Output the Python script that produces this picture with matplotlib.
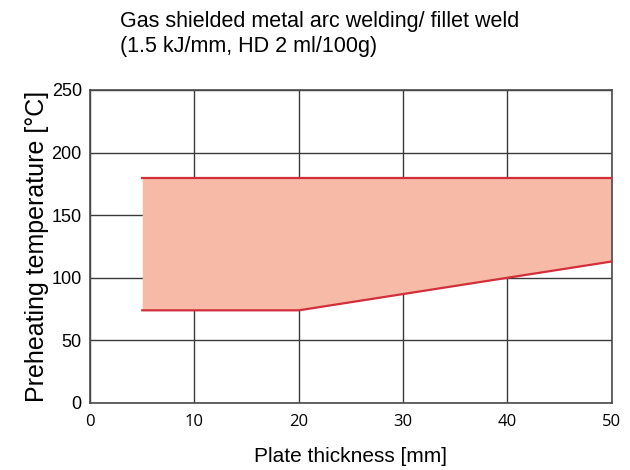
import matplotlib
matplotlib.use('Agg')
import matplotlib.pyplot as plt

# plate thickness [mm] and preheat window [°C]
thickness = [5, 20, 40, 50]
lower_temp = [74, 74, 100, 113]
upper_temp = [180, 180, 180, 180]

xticks = [0, 10, 20, 30, 40, 50]
yticks = [0, 50, 100, 150, 200, 250]

plt.rcParams['font.family'] = ['Liberation Sans', 'DejaVu Sans']

fig = plt.figure(figsize=(6.3, 4.7), dpi=100)
ax = fig.add_axes([0.143, 0.1426, 0.828, 0.666])

ax.fill_between(thickness, lower_temp, upper_temp, color='#f7baa7', lw=0, zorder=2)
ax.plot(thickness, lower_temp, color='#d22f3a', lw=1.6, zorder=3)
ax.plot(thickness, upper_temp, color='#d22f3a', lw=1.6, zorder=3)

ax.set_xlim(0, 50)
ax.set_ylim(0, 250)
ax.set_xticks(xticks)
ax.set_yticks(yticks)
ax.grid(True, color='#3a3a3a', lw=1.0, zorder=1)
ax.set_axisbelow(True)
ax.tick_params(length=0)
ax.tick_params(axis='x', pad=8, labelsize=12)
ax.tick_params(axis='y', pad=6, labelsize=13)
for lab in ax.get_xticklabels():
    lab.set_family(['Open Sans', 'DejaVu Sans'])
for s in ax.spines.values():
    s.set_color('#4a4a4a')
    s.set_linewidth(1.2)

ax.set_xlabel('Plate thickness [mm]', fontsize=15, labelpad=12)
ax.set_ylabel('Preheating temperature [°C]', fontsize=18, labelpad=2)

fig.text(0.19, 0.976, 'Gas shielded metal arc welding/ fillet weld\n(1.5 kJ/mm, HD 2 ml/100g)',
         fontsize=15.5, ha='left', va='top', linespacing=1.25)

fig.savefig('out.png', dpi=100)
